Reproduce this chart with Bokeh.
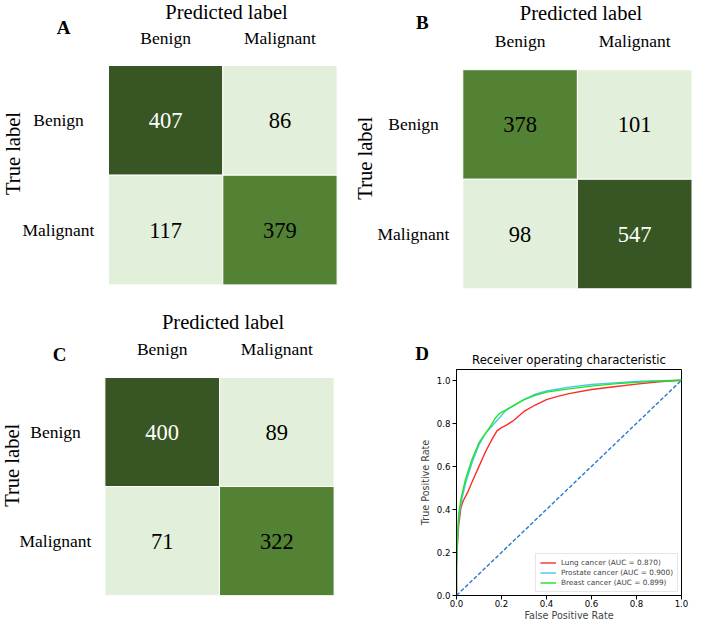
import math
from bokeh.plotting import figure
from bokeh.models import (Range1d, Label, ColumnDataSource,
                          FixedTicker, PrintfTickFormatter)
from bokeh.layouts import column, row
from bokeh.embed import file_html
from bokeh.resources import INLINE
from bokeh.core.properties import value

# ---------------- data ----------------
categories = ["Benign", "Malignant"]
cm_a = [[407, 86], [117, 379]]
cm_b = [[378, 101], [98, 547]]
cm_c = [[400, 89], [71, 322]]

fpr_lung = [0, 0, 0.005, 0.01, 0.02, 0.03, 0.05, 0.07, 0.1, 0.13, 0.16, 0.18, 0.2,
            0.22, 0.25, 0.3, 0.35, 0.4, 0.45, 0.5, 0.6, 0.7, 0.8, 0.9, 1.0]
tpr_lung = [0, 0.14, 0.25, 0.33, 0.41, 0.44, 0.48, 0.53, 0.6, 0.67, 0.73, 0.765, 0.78,
            0.79, 0.81, 0.855, 0.885, 0.91, 0.925, 0.938, 0.957, 0.97, 0.982, 0.993, 1.0]
fpr_prostate = [0, 0, 0.005, 0.01, 0.02, 0.04, 0.07, 0.1, 0.13, 0.16, 0.19, 0.22,
                0.25, 0.3, 0.35, 0.4, 0.5, 0.6, 0.7, 0.8, 0.9, 1.0]
tpr_prostate = [0, 0.14, 0.28, 0.36, 0.43, 0.52, 0.62, 0.7, 0.755, 0.79, 0.825, 0.86,
                0.88, 0.91, 0.935, 0.95, 0.968, 0.98, 0.988, 0.994, 0.998, 1.0]
fpr_breast = [0, 0, 0.005, 0.01, 0.02, 0.04, 0.07, 0.1, 0.12, 0.15, 0.17, 0.19, 0.22,
              0.25, 0.3, 0.35, 0.4, 0.5, 0.6, 0.7, 0.8, 0.9, 1.0]
tpr_breast = [0, 0.14, 0.3, 0.38, 0.45, 0.54, 0.635, 0.71, 0.74, 0.785, 0.82, 0.845,
              0.862, 0.88, 0.91, 0.93, 0.945, 0.96, 0.973, 0.983, 0.99, 0.996, 1.0]
diag = [0.0, 1.0]
roc_names = ["Lung cancer", "Prostate cancer", "Breast cancer"]
roc_auc = [0.870, 0.900, 0.899]
roc_ticks = [0.0, 0.2, 0.4, 0.6, 0.8, 1.0]

# ---------------- styles / layout (pixels, absolute on the page) ----------------
DARK, MID, LIGHT = "#375623", "#548235", "#E2EFDA"
SERIF = "Liberation Serif"
SANS = "DejaVu Sans"
W_L, W_R, H_TOP, H_BOT = 345, 347, 367, 256
TB2, BB2 = 2, 28                     # shared top / bottom borders of the lower row
D_LEFT, D_RIGHT = 111, 11

cells_a = (108, 336.6, 65, 284.4)
cells_b = (462.3, 691.5, 69.2, 288.3)
cells_c = (104.4, 333.6, 377, H_TOP + H_BOT - BB2)


def make_grid_fig(frame, cells, height, bottom_border, top_border):
    fx0, fy0, fx1, fy1 = frame
    cx0, cx1, cy0, cy1 = cells
    n = len(categories)
    ux, uy = (cx1 - cx0) / n, (cy1 - cy0) / n

    def fx(ax):
        return -0.5 + (ax - cx0) / ux

    def fy(ay):
        return n - 0.5 - (ay - cy0) / uy

    p = figure(width=int(fx1 - fx0), height=height,
               x_range=Range1d(fx(fx0), fx(fx1)), y_range=Range1d(fy(fy1), fy(fy0)),
               x_axis_location=None, y_axis_location=None,
               output_backend="svg", toolbar_location=None, tools="",
               min_border_left=0, min_border_right=0,
               min_border_top=top_border, min_border_bottom=bottom_border)
    p.outline_line_color = None
    p.grid.visible = False
    return p, fx, fy


def add_label(p, text, x, y, size, bold=False, angle=0.0, font=SERIF):
    p.add_layout(Label(x=x, y=y, text=text, angle=angle, text_font=font,
                       text_font_size=size,
                       text_font_style="bold" if bold else "normal",
                       text_align="center", text_baseline="middle",
                       text_color="black"))


def add_matrix(p, matrix):
    n = len(categories)
    flat = sorted([v for r in matrix for v in r], reverse=True)
    cx, cy, vals, fills, tcs = [], [], [], [], []
    for i in range(n):
        for j in range(n):
            v = matrix[i][j]
            cx.append(j)
            cy.append(n - 1 - i)
            vals.append(str(v))
            if v == flat[0]:
                fills.append(DARK); tcs.append("white")
            elif v == flat[1]:
                fills.append(MID); tcs.append("black")
            else:
                fills.append(LIGHT); tcs.append("black")
    src = ColumnDataSource(dict(x=cx, y=cy, v=vals, fill=fills, tc=tcs))
    p.rect(x="x", y="y", width=1, height=1, source=src, fill_color="fill",
           line_color="white", line_width=1)
    p.text(x="x", y="y", text="v", source=src, text_color="tc",
           text_align="center", text_baseline="middle",
           text_font=value(SERIF), text_font_size=value("22.5px"))


def add_col_labels(p, xs, y):
    src = ColumnDataSource(dict(x=xs, y=[y] * len(xs), t=categories))
    p.text(x="x", y="y", text="t", source=src, text_align="center",
           text_baseline="middle", text_color="black",
           text_font=value(SERIF), text_font_size=value("17.5px"))


def add_row_labels(p, x):
    n = len(categories)
    src = ColumnDataSource(dict(x=[x] * n, y=[n - 1 - i for i in range(n)], t=categories))
    p.text(x="x", y="y", text="t", source=src, text_align="center",
           text_baseline="middle", text_color="black",
           text_font=value(SERIF), text_font_size=value("17.5px"))


def centers(cells):
    cx0, cx1 = cells[0], cells[1]
    u = (cx1 - cx0) / len(categories)
    return [cx0 + u * (k + 0.5) for k in range(len(categories))]


# ---- top-left figure: panel A (+ the heading of panel C just below it) ----
pA, ax_, ay_ = make_grid_fig((0, 0, W_L, H_TOP), cells_a, H_TOP, 0, 0)
add_matrix(pA, cm_a)
add_col_labels(pA, [0, 1], ay_(37.3))
add_row_labels(pA, ax_(58))
add_label(pA, "Predicted label", ax_(226), ay_(11), "20.5px")
add_label(pA, "True label", ax_(12), ay_(153), "20.5px", angle=math.pi / 2)
add_label(pA, "A", ax_(63), ay_(27), "19px", bold=True)
# heading of panel C
add_label(pA, "Predicted label", ax_(222.6), ay_(321.1), "20.5px")
add_col_labels(pA, [ax_(c) for c in centers(cells_c)], ay_(348.8))
add_label(pA, "C", ax_(59), ay_(354.2), "19px", bold=True)

# ---- top-right figure: panel B (+ heading of panel D) ----
pB, bx_, by_ = make_grid_fig((W_L, 0, W_L + W_R, H_TOP), cells_b, H_TOP, 0, 0)
add_matrix(pB, cm_b)
add_col_labels(pB, [0, 1], by_(40.7))
add_row_labels(pB, bx_(413))
add_label(pB, "Predicted label", bx_(580.5), by_(12.5), "20.5px")
add_label(pB, "True label", bx_(364), by_(157.7), "20.5px", angle=math.pi / 2)
add_label(pB, "B", bx_(421.8), by_(21.5), "19px", bold=True)
d_frame_l = W_L + D_LEFT
d_frame_r = W_L + W_R - D_RIGHT
add_label(pB, "Receiver operating characteristic", bx_((d_frame_l + d_frame_r) / 2),
          by_(359.8), "11.7px", font=SANS)
add_label(pB, "D", bx_(d_frame_l - 34.4), by_(353), "19px", bold=True)

# ---- bottom-left figure: panel C ----
pC, cx_, cy_ = make_grid_fig((0, H_TOP + TB2, W_L, H_TOP + H_BOT - BB2), cells_c,
                             H_BOT, BB2, TB2)
add_matrix(pC, cm_c)
add_row_labels(pC, cx_(55))
add_label(pC, "True label", cx_(11), cy_(464.8), "20.5px", angle=math.pi / 2)

# ---------------- ROC panel ----------------
pD = figure(width=W_R, height=H_BOT, x_range=Range1d(0, 1), y_range=Range1d(0, 1.05),
            output_backend="svg", toolbar_location=None, tools="",
            min_border_left=D_LEFT, min_border_right=D_RIGHT,
            min_border_top=TB2, min_border_bottom=BB2)
pD.grid.visible = False
pD.outline_line_color = "black"
pD.outline_line_width = 1

colors = ["#ff2a2a", "#4cc3f0", "#1ee61e"]
curves = [(fpr_lung, tpr_lung), (fpr_prostate, tpr_prostate), (fpr_breast, tpr_breast)]
for (fx_, ty_), name, auc, col in zip(curves, roc_names, roc_auc, colors):
    pD.line(fx_, ty_, line_color=col, line_width=1.4,
            legend_label=f"{name} (AUC = {auc:.3f})")
pD.line(diag, diag, line_color="#2878d0", line_width=1.4, line_dash="4 2")

for ax, lab in ((pD.xaxis[0], "False Positive Rate"), (pD.yaxis[0], "True Positive Rate")):
    ax.ticker = FixedTicker(ticks=roc_ticks)
    ax.formatter = PrintfTickFormatter(format="%.1f")
    ax.axis_label = lab
    ax.axis_label_text_font = SANS
    ax.axis_label_text_font_size = "9.6px"
    ax.axis_label_text_font_style = "normal"
    ax.major_label_text_font = SANS
    ax.major_label_text_font_size = "8.6px"
    ax.major_label_text_color = "black"
    ax.axis_line_color = "black"
    ax.major_tick_line_color = "black"
    ax.major_tick_out = 4
    ax.major_tick_in = 0
    ax.minor_tick_line_color = None
pD.xaxis.major_label_standoff = 0
pD.xaxis.axis_label_standoff = 0
pD.yaxis.major_label_standoff = 2
pD.yaxis.axis_label_standoff = 3

lg = pD.legend[0]
lg.location = "bottom_right"
lg.margin = 3
lg.padding = 4
lg.spacing = 1
lg.glyph_width = 16
lg.glyph_height = 9
lg.label_height = 9
lg.label_standoff = 5
lg.label_text_font = SANS
lg.label_text_font_size = "7.3px"
lg.border_line_color = "#cccccc"
lg.border_line_width = 1
lg.background_fill_alpha = 0.8

layout = column(row(pA, pB), row(pC, pD))
open("out.html", "w").write(file_html(layout, INLINE))
